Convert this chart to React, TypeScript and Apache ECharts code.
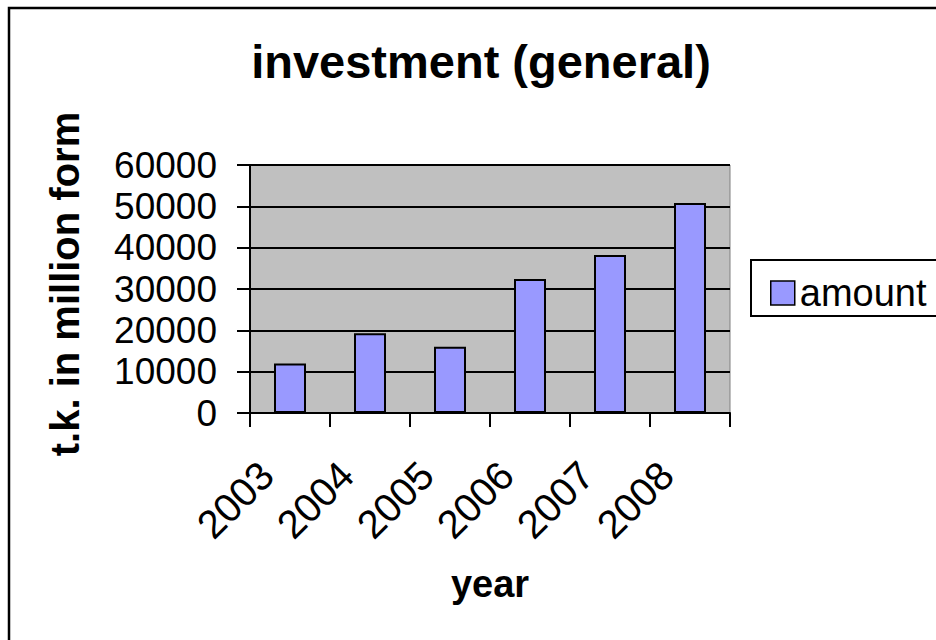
import React, { useEffect, useRef } from "react";
import * as echarts from "echarts";

const years = ["2003", "2004", "2005", "2006", "2007", "2008"];
const amounts = [12000, 19300, 16000, 32400, 38200, 50800];
const seriesName = "amount";
const titleText = "investment (general)";
const xName = "year";
const yName = "t.k. in million form";

export default function App() {
  const ref = useRef<HTMLDivElement>(null);
  useEffect(() => {
    if (!ref.current) return;
    const chart = echarts.init(ref.current, null, { renderer: "svg" });
    const font = "'Liberation Sans', Arial, sans-serif";
    chart.setOption({
      animation: false,
      backgroundColor: "#ffffff",
      textStyle: { fontFamily: font, color: "#000" },
      title: {
        text: titleText,
        left: 476,
        top: 33,
        textAlign: "center",
        textStyle: { fontFamily: font, fontSize: 47, fontWeight: "bold", color: "#000" },
      },
      graphic: [
        {
          type: "rect",
          shape: { x: 9, y: 8, width: 1000, height: 1000 },
          style: { fill: "none", stroke: "#000", lineWidth: 2.5 },
          silent: true,
        },
        {
          type: "rect",
          shape: { x: 751, y: 260, width: 300, height: 56 },
          style: { fill: "#fff", stroke: "#000", lineWidth: 2 },
          silent: true,
          z: 0,
        },
      ],
      legend: {
        data: [seriesName],
        left: 765,
        top: 269,
        itemWidth: 24,
        itemHeight: 24,
        itemGap: 12,
        icon: "rect",
        itemStyle: { borderColor: "#000", borderWidth: 1.5 },
        textStyle: { fontFamily: font, fontSize: 38, color: "#000" },
        z: 10,
      },
      grid: {
        left: 250,
        top: 165,
        right: 206,
        bottom: 227,
        show: true,
        backgroundColor: "#c0c0c0",
        borderColor: "#808080",
        borderWidth: 1,
        containLabel: false,
      },
      xAxis: {
        type: "category",
        data: years,
        name: xName,
        nameLocation: "middle",
        nameGap: 152,
        nameTextStyle: { fontFamily: font, fontSize: 38, fontWeight: "bold", color: "#000" },
        axisLine: { lineStyle: { color: "#000", width: 2 } },
        axisTick: { show: true, length: 14, lineStyle: { color: "#000", width: 2 }, alignWithLabel: false },
        axisLabel: {
          rotate: 45,
          fontSize: 40,
          color: "#000",
          margin: 32,
          fontFamily: font,
          align: "right",
          padding: [0, 33, 0, 0],
        },
      },
      yAxis: {
        type: "value",
        min: 0,
        max: 60000,
        interval: 10000,
        name: yName,
        nameLocation: "middle",
        nameGap: 165,
        nameTextStyle: { fontFamily: font, fontSize: 40, fontWeight: "bold", color: "#000", padding: [0, 0, 0, 10] },
        axisLine: { show: true, lineStyle: { color: "#000", width: 2 } },
        axisTick: { show: true, length: 13, lineStyle: { color: "#000", width: 2 } },
        axisLabel: {
          fontSize: 37,
          color: "#000",
          margin: 33,
          fontFamily: font,
          formatter: (v: number) => String(v),
        },
        splitLine: { show: true, lineStyle: { color: "#000", width: 2 } },
      },
      series: [
        {
          name: seriesName,
          type: "bar",
          data: amounts,
          barWidth: "40%",
          itemStyle: { color: "#9999ff", borderColor: "#000", borderWidth: 2 },
        },
      ],
    });
    return () => chart.dispose();
  }, []);
  return (
    <div
      ref={ref}
      style={{ position: "fixed", left: 0, top: 0, width: 936, height: 640 }}
    />
  );
}
